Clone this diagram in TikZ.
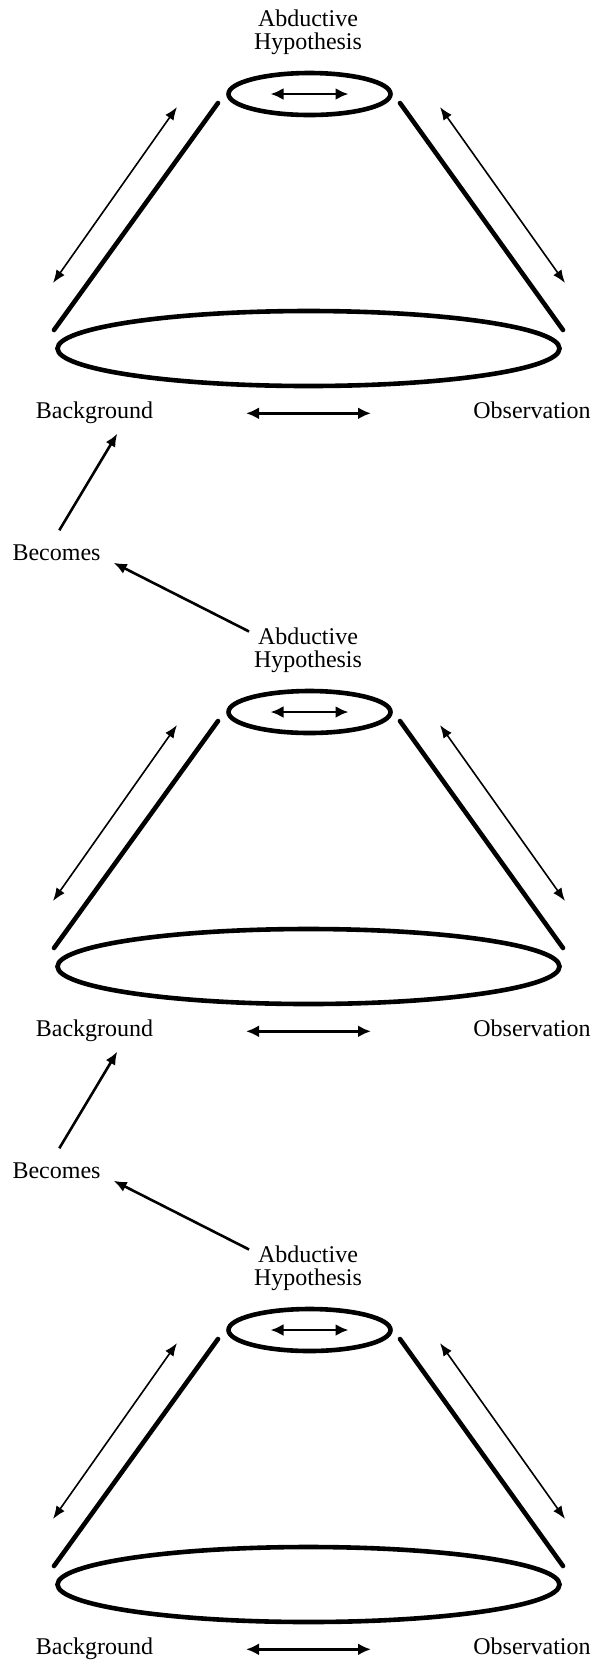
\documentclass[tikz,border=0pt]{standalone}
\usepackage{fontspec}
\setmainfont{Liberation Serif}
\usetikzlibrary{arrows.meta,shapes.geometric,calc}
\tikzset{
  lbl/.style={inner sep=0pt, font=\fontsize{12}{11.5}\selectfont},
  rim/.style={draw, ellipse, line width=2.3pt, inner sep=0pt},
  side/.style={line width=2.3pt, line cap=round},
  flow/.style={line width=0.8pt, {Latex[length=6.5pt,width=5pt]}-{Latex[length=6.5pt,width=5pt]}},
  swap/.style={line width=1.4pt, {Latex[length=6.5pt,width=6pt]}-{Latex[length=6.5pt,width=6pt]}},
  becomes/.style={line width=1.3pt, -{Latex[length=6.5pt,width=5.5pt]}},
}
\begin{document}
\begin{tikzpicture}[x=0.5pt,y=-0.5pt]
\useasboundingbox (0,0) rectangle (599,1662);
% three stacked cones: hypothesis rim on top, background/observation base below
\foreach \i/\o in {1/0,2/618,3/1236}{
  \begin{scope}[shift={(0,\o)}]
    \node[lbl, align=center, anchor=north] (abd\i) at (308,9.5) {Abductive\\Hypothesis};
    \node[rim, minimum width=81pt, minimum height=21pt] (top\i) at (309.5,94) {};
    \node[rim, minimum width=251pt, minimum height=37.5pt] (base\i) at (308.5,348.5) {};
    \node[lbl, anchor=base] (bg\i) at (94.5,418) {Background};
    \node[lbl, anchor=base] (obs\i) at (532,418) {Observation};
    \draw[swap] ([xshift=-19.5pt]top\i.center) -- ([xshift=19.5pt]top\i.center);
    \draw[swap] ($(base\i.south)+(-62.5,25)$) -- ($(base\i.south)+(62.5,25)$);
    \draw[side] (218,103) -- (54,330);
    \draw[side] (400,103) -- (563,330);
    \draw[flow] (177,107) -- (53,283);
    \draw[flow] (440,107) -- (565,283);
  \end{scope}
}
% links from each hypothesis back to the previous background
\foreach \i/\j/\o in {1/2/0,2/3/618}{
  \node[lbl, anchor=base] (bec\i) at (56.5,560+\o) {Becomes};
  \draw[becomes] ($(bec\i.north)+(2.8,-13.6)$) -- ($(bg\i.south)+(22.8,10)$);
  \draw[becomes] ($(abd\j.north west)+(-4.5,4)$) -- ($(bec\i.east)+(12.8,10.5)$);
}
\end{tikzpicture}
\end{document}
